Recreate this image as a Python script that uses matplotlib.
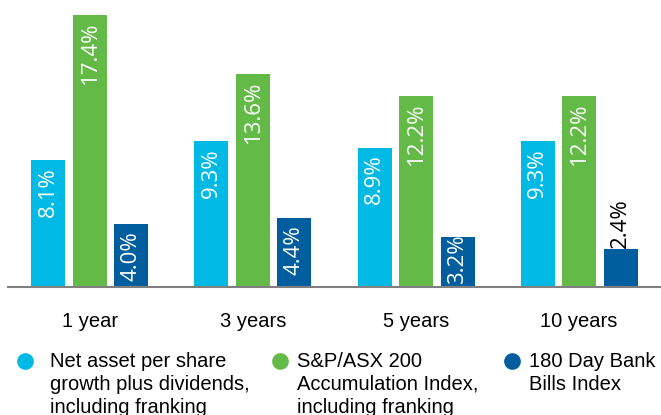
import numpy as np
import matplotlib
matplotlib.use("Agg")
import matplotlib.pyplot as plt
from matplotlib.lines import Line2D

# Performance data (%)
periods = ["1 year", "3 years", "5 years", "10 years"]
nav_growth = [8.1, 9.3, 8.9, 9.3]
asx200 = [17.4, 13.6, 12.2, 12.2]
bank_bills = [4.0, 4.4, 3.2, 2.4]

series_labels = [
    "Net asset per share\ngrowth plus dividends,\nincluding franking",
    "S&P/ASX 200\nAccumulation Index,\nincluding franking",
    "180 Day Bank\nBills Index",
]
colors = ["#00b9e4", "#63ba46", "#005e9f"]

W, H = 661, 415
fig = plt.figure(figsize=(W / 100, H / 100), dpi=100)

# axes placed in pixel terms: baseline at y=287, left edge x=8
ax = fig.add_axes([8 / W, (H - 287) / H, (W - 8) / W, 287 / H])

x = np.arange(len(periods))
width = 34 / 163
step = 41.5 / 163

all_series = [nav_growth, asx200, bank_bills]
for i, (vals, col) in enumerate(zip(all_series, colors)):
    xs = x + (i - 1) * step
    bars = ax.bar(xs, vals, width=width, color=col, zorder=2)
    for b, v in zip(bars, vals):
        cx = b.get_x() + b.get_width() / 2
        lbl = f"{v:.1f}%"
        kw = dict(textcoords="offset points", rotation=90, ha="center",
                  fontsize=16, family="Open Sans")
        if v >= 3.8:
            ax.annotate(lbl, (cx, v), xytext=(0, -5), va="top", color="white", **kw)
        elif v >= 3:
            # tight fit: sit it on the baseline instead
            ax.annotate(lbl, (cx, 0), xytext=(0, 2), va="bottom", color="white", **kw)
        else:
            ax.annotate(lbl, (cx, v), xytext=(0, 1), va="bottom", color="black", **kw)

ax.set_xlim(-0.503, 3.503)
ax.set_ylim(0, 17.4 * 287 / 272.5)
ax.set_xticks(x)
ax.set_xticklabels(periods, fontsize=14.5, family="Liberation Sans")
ax.tick_params(axis="x", length=0, pad=18)
ax.set_yticks([])
for s in ["top", "right", "left"]:
    ax.spines[s].set_visible(False)
ax.spines["bottom"].set_color("#7f7f7f")
ax.spines["bottom"].set_linewidth(1.5)

# legend drawn manually beneath the chart
leg_x = [25, 280, 512]
text_x = [50, 297, 529]
for mx, tx, col, lab in zip(leg_x, text_x, colors, series_labels):
    fig.add_artist(Line2D([mx / W], [(H - 361) / H], marker="o", markersize=11,
                          color=col, linestyle="none", transform=fig.transFigure))
    fig.text(tx / W, (H - 352) / H, lab, ha="left", va="top", fontsize=14.5,
             family="Liberation Sans", linespacing=1.25)

fig.savefig("out.png", dpi=100)
